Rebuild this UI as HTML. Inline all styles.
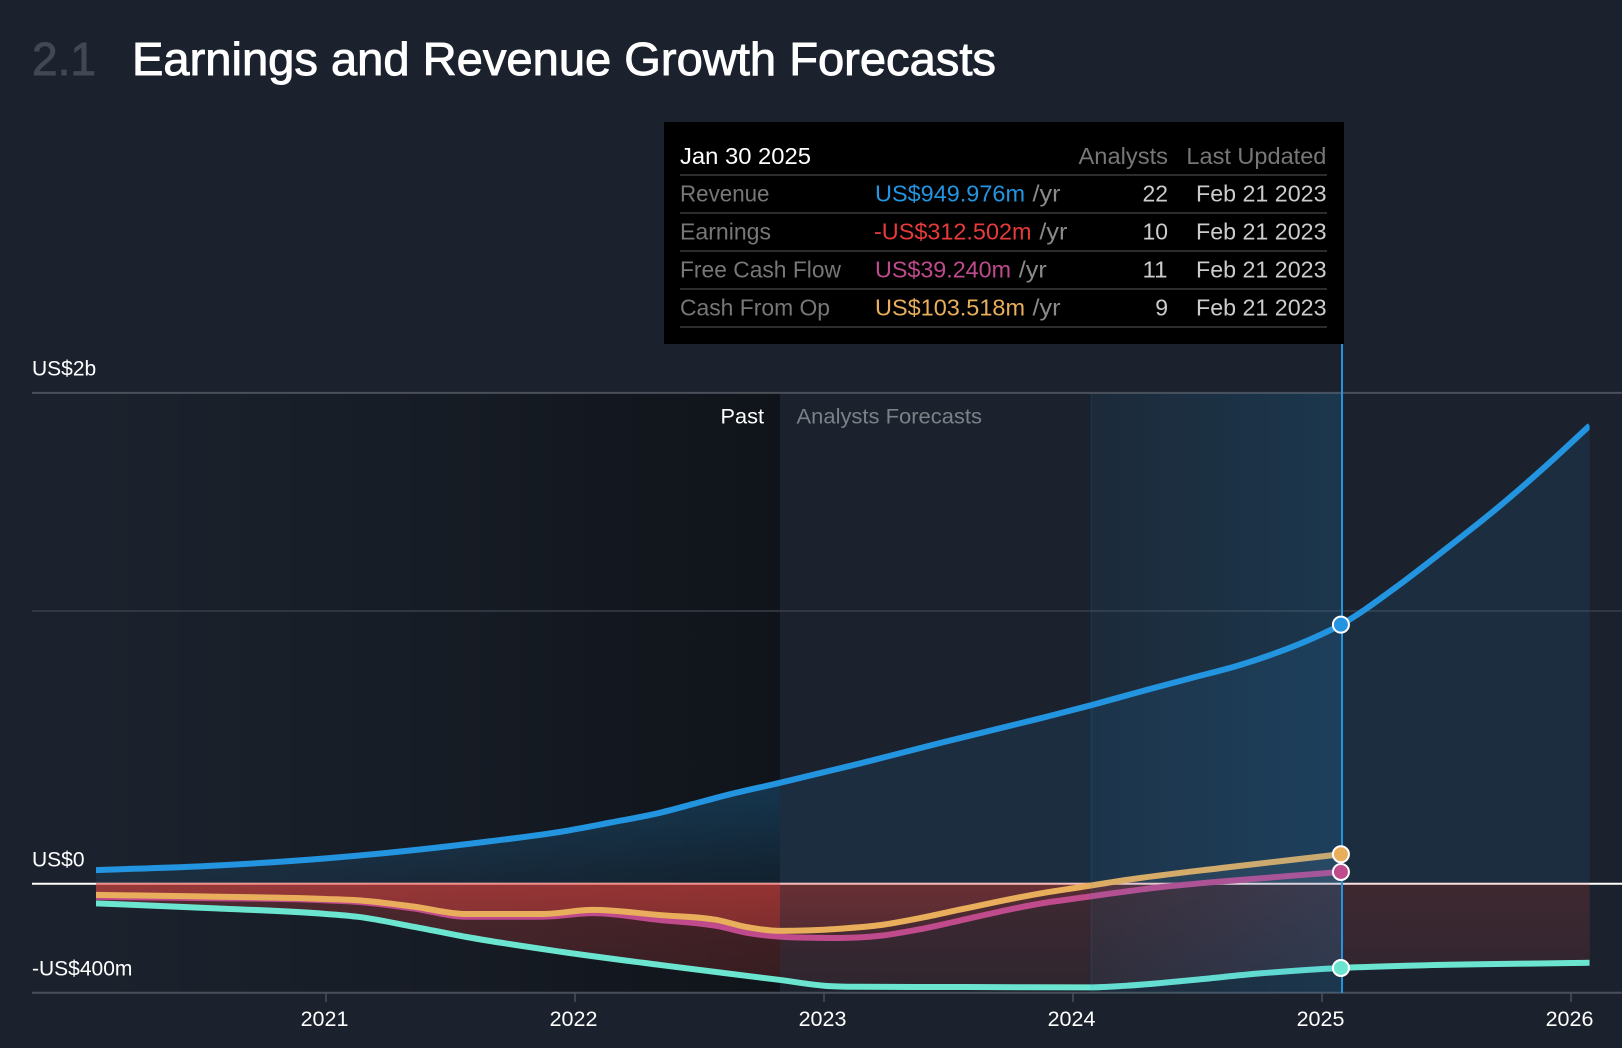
<!DOCTYPE html>
<html lang="en">
<head>
<meta charset="utf-8">
<title>Earnings and Revenue Growth Forecasts</title>
<style>
html,body{margin:0;padding:0;background:#1b222d;width:1622px;height:1048px;overflow:hidden}
svg{display:block;font-family:"Liberation Sans",sans-serif}
</style>
</head>
<body>
<svg id="chart" xmlns="http://www.w3.org/2000/svg" width="1622" height="1048" viewBox="0 0 1622 1048">
  <defs>
    <linearGradient id="pastShade" x1="0" x2="1" y1="0" y2="0">
      <stop offset="0" stop-color="#000" stop-opacity="0"/>
      <stop offset="0.55" stop-color="#000" stop-opacity="0.2"/>
      <stop offset="1" stop-color="#000" stop-opacity="0.42"/>
    </linearGradient>
    <linearGradient id="bandShade" x1="0" x2="1" y1="0" y2="0">
      <stop offset="0" stop-color="#2394df" stop-opacity="0.07"/>
      <stop offset="1" stop-color="#2394df" stop-opacity="0.18"/>
    </linearGradient>
    <linearGradient id="pastBlue" gradientUnits="userSpaceOnUse" x1="0" x2="0" y1="780" y2="884">
      <stop offset="0" stop-color="#2394df" stop-opacity="0.27"/>
      <stop offset="1" stop-color="#2394df" stop-opacity="0.1"/>
    </linearGradient>
    <linearGradient id="pastRed" gradientUnits="userSpaceOnUse" x1="0" x2="0" y1="884" y2="935">
      <stop offset="0" stop-color="#e84641" stop-opacity="0.27"/>
      <stop offset="1" stop-color="#e84641" stop-opacity="0.2"/>
    </linearGradient>
    <linearGradient id="pastEarn" gradientUnits="userSpaceOnUse" x1="0" x2="0" y1="890" y2="985">
      <stop offset="0" stop-color="#e84641" stop-opacity="0.26"/>
      <stop offset="1" stop-color="#e84641" stop-opacity="0.17"/>
    </linearGradient>
    <linearGradient id="futureEarn" gradientUnits="userSpaceOnUse" x1="0" x2="0" y1="890" y2="985">
      <stop offset="0" stop-color="#e84641" stop-opacity="0.17"/>
      <stop offset="1" stop-color="#e84641" stop-opacity="0.1"/>
    </linearGradient>
    <linearGradient id="futureRed" gradientUnits="userSpaceOnUse" x1="0" x2="0" y1="884" y2="935">
      <stop offset="0" stop-color="#e84641" stop-opacity="0.13"/>
      <stop offset="1" stop-color="#e84641" stop-opacity="0.08"/>
    </linearGradient>
    <clipPath id="clipPast"><rect x="96" y="380" width="684" height="620"/></clipPath>
    <clipPath id="clipFuture"><rect x="780" y="380" width="810" height="620"/></clipPath>
    <clipPath id="clipNeg"><rect x="96" y="882.7" width="1494" height="118"/></clipPath>
    <clipPath id="clipPos"><rect x="96" y="380" width="1494" height="502.7"/></clipPath>
    <clipPath id="clipLines"><rect x="96" y="380" width="1493.6" height="620"/></clipPath>
  </defs>

  <rect x="0" y="0" width="1622" height="1048" fill="#1b222d"/>

  <text x="32" y="75" font-size="46" fill="#424853" stroke="#424853" stroke-width="0.9" textLength="64" lengthAdjust="spacingAndGlyphs">2.1</text>
  <text x="132" y="75" font-size="46" fill="#fff" stroke="#fff" stroke-width="0.9" textLength="864" lengthAdjust="spacingAndGlyphs">Earnings and Revenue Growth Forecasts</text>

  <rect x="96" y="393" width="684" height="600" fill="url(#pastShade)"/>

  <g id="gridLayer"></g>
  <g id="areaLayer"></g>
  <g id="lineLayer" clip-path="url(#clipLines)"></g>

  <rect x="1091.4" y="393" width="250.6" height="600" fill="url(#bandShade)"/>
  <line x1="1091.4" x2="1091.4" y1="393" y2="993" stroke="#2394df" stroke-opacity="0.12" stroke-width="1.5"/>

  <text x="720.5" y="423.5" font-size="21" fill="#fff" textLength="43.5" lengthAdjust="spacingAndGlyphs">Past</text>
  <text x="796.5" y="423.5" font-size="21" fill="#7c8087" textLength="185.5" lengthAdjust="spacingAndGlyphs">Analysts Forecasts</text>

  <g id="axisLayer"></g>

  <line x1="1342" x2="1342" y1="343" y2="993" stroke="#2394df" stroke-width="2"/>
  <g id="markerLayer"></g>

  <g font-size="23">
    <rect x="664" y="122" width="680" height="222" fill="#000"/>
    <text x="680" y="164" fill="#fff" textLength="131" lengthAdjust="spacingAndGlyphs">Jan 30 2025</text>
    <text x="1078.5" y="164" fill="#777" textLength="89.5" lengthAdjust="spacingAndGlyphs">Analysts</text>
    <text x="1186.4" y="164" fill="#777" textLength="140" lengthAdjust="spacingAndGlyphs">Last Updated</text>
    <g stroke="#3a3a3a" stroke-width="1.5">
      <line x1="680" x2="1327" y1="175" y2="175"/>
      <line x1="680" x2="1327" y1="213" y2="213"/>
      <line x1="680" x2="1327" y1="251" y2="251"/>
      <line x1="680" x2="1327" y1="289" y2="289"/>
      <line x1="680" x2="1327" y1="327" y2="327"/>
    </g>

    <text x="680" y="201.7" fill="#777" textLength="89.5" lengthAdjust="spacingAndGlyphs">Revenue</text>
    <text x="875" y="201.7" fill="#2394df" textLength="150" lengthAdjust="spacingAndGlyphs">US$949.976m</text>
    <text x="1032.5" y="201.7" fill="#8a8a8a" textLength="28" lengthAdjust="spacingAndGlyphs">/yr</text>
    <text x="1142.5" y="201.7" fill="#ccc" textLength="25.5" lengthAdjust="spacingAndGlyphs">22</text>
    <text x="1196" y="201.7" fill="#ccc" textLength="130.5" lengthAdjust="spacingAndGlyphs">Feb 21 2023</text>

    <text x="680" y="239.7" fill="#777" textLength="91" lengthAdjust="spacingAndGlyphs">Earnings</text>
    <text x="874" y="239.7" fill="#e83a3a" textLength="157.5" lengthAdjust="spacingAndGlyphs">-US$312.502m</text>
    <text x="1039.4" y="239.7" fill="#8a8a8a" textLength="28" lengthAdjust="spacingAndGlyphs">/yr</text>
    <text x="1142.5" y="239.7" fill="#ccc" textLength="25.5" lengthAdjust="spacingAndGlyphs">10</text>
    <text x="1196" y="239.7" fill="#ccc" textLength="130.5" lengthAdjust="spacingAndGlyphs">Feb 21 2023</text>

    <text x="680" y="277.7" fill="#777" textLength="161" lengthAdjust="spacingAndGlyphs">Free Cash Flow</text>
    <text x="875" y="277.7" fill="#bf4a8c" textLength="136" lengthAdjust="spacingAndGlyphs">US$39.240m</text>
    <text x="1018.8" y="277.7" fill="#8a8a8a" textLength="28" lengthAdjust="spacingAndGlyphs">/yr</text>
    <text x="1142.5" y="277.7" fill="#ccc" textLength="25" lengthAdjust="spacingAndGlyphs">11</text>
    <text x="1196" y="277.7" fill="#ccc" textLength="130.5" lengthAdjust="spacingAndGlyphs">Feb 21 2023</text>

    <text x="680" y="315.7" fill="#777" textLength="150" lengthAdjust="spacingAndGlyphs">Cash From Op</text>
    <text x="875" y="315.7" fill="#e9ae5b" textLength="150" lengthAdjust="spacingAndGlyphs">US$103.518m</text>
    <text x="1032.5" y="315.7" fill="#8a8a8a" textLength="28" lengthAdjust="spacingAndGlyphs">/yr</text>
    <text x="1168" y="315.7" text-anchor="end" fill="#ccc">9</text>
    <text x="1196" y="315.7" fill="#ccc" textLength="130.5" lengthAdjust="spacingAndGlyphs">Feb 21 2023</text>
  </g>
</svg>

<script>
const yearTicks = [2021, 2022, 2023, 2024, 2025, 2026];
const yTickValues = [1800, 1000, 0, -400];
const yTickLabels = ['US$2b', '', 'US$0', '-US$400m'];
const hoverDate = 2025.076;

const revenueDates = [2020.076, 2020.522, 2021, 2021.353, 2021.663, 2021.94, 2022.141, 2022.341, 2022.474, 2022.61, 2022.823, 2023.145, 2023.466, 2023.867, 2024.075, 2024.269, 2024.47, 2024.671, 2024.803, 2024.938, 2025.076, 2025.30, 2025.501, 2025.702, 2025.903, 2026.075];
const revenueValues = [50, 65, 93, 123, 156, 190, 224, 260, 292, 325, 370, 441, 516, 606, 655, 704, 753, 802, 842, 890, 950, 1089, 1230, 1376, 1535, 1680];

const earningsDates = [2020.076, 2020.522, 2021, 2021.124, 2021.353, 2021.562, 2021.94, 2022.341, 2022.823, 2023.012, 2023.145, 2023.57, 2024.072, 2024.216, 2024.482, 2024.751, 2025.076, 2025.337, 2026.075];
const earningsValues = [-72, -89, -111, -121, -158, -195, -249, -298, -353, -375, -378, -379, -380, -374, -353, -329, -309, -301, -290];

const fcfDates = [2020.076, 2020.522, 2021, 2021.145, 2021.353, 2021.562, 2021.871, 2022.072, 2022.341, 2022.57, 2022.69, 2022.823, 2023.064, 2023.225, 2023.386, 2023.546, 2023.707, 2023.867, 2024.028, 2024.349, 2024.618, 2025.076];
const fcfValues = [-48, -53, -61, -68, -91, -121, -121, -108, -133, -155, -180, -194, -199, -191, -167, -135, -102, -73, -52, -13, 10, 43];

const cashOpDates = [2020.076, 2020.522, 2021, 2021.145, 2021.353, 2021.562, 2021.871, 2022.072, 2022.341, 2022.57, 2022.69, 2022.823, 2023.064, 2023.225, 2023.386, 2023.546, 2023.707, 2023.867, 2024.028, 2024.216, 2024.618, 2025.076];
const cashOpValues = [-41, -47, -56, -62, -84, -111, -111, -96, -115, -133, -159, -173, -165, -152, -126, -95, -64, -36, -13, 14, 60, 108];

const SVG_NS = 'http://www.w3.org/2000/svg';
const xScale = d => 326 + (d - 2021) * 249;
const yScale = v => 883.7 - v * 0.2727;

function svgEl(tag, attrs) {
  const el = document.createElementNS(SVG_NS, tag);
  for (const k in attrs) el.setAttribute(k, attrs[k]);
  return el;
}

function curvePath(dates, values) {
  const xs = dates.map(xScale);
  const ys = values.map(yScale);
  const n = xs.length;
  const m = new Array(n).fill(0);
  for (let i = 1; i < n - 1; i++) {
    const h0 = xs[i] - xs[i - 1];
    const h1 = xs[i + 1] - xs[i];
    const a = (ys[i] - ys[i - 1]) / h0;
    const b = (ys[i + 1] - ys[i]) / h1;
    if (a * b <= 0) { m[i] = 0; continue; }
    const t = (a * h1 + b * h0) / (h0 + h1);
    const limit = 3 * Math.min(Math.abs(a), Math.abs(b));
    m[i] = Math.sign(t) * Math.min(Math.abs(t), limit);
  }
  m[0] = (ys[1] - ys[0]) / (xs[1] - xs[0]);
  m[n - 1] = (ys[n - 1] - ys[n - 2]) / (xs[n - 1] - xs[n - 2]);
  let d = 'M' + xs[0].toFixed(2) + ' ' + ys[0].toFixed(2);
  for (let i = 0; i < n - 1; i++) {
    const h = (xs[i + 1] - xs[i]) / 3;
    d += 'C' + (xs[i] + h).toFixed(2) + ' ' + (ys[i] + m[i] * h).toFixed(2) + ' ' +
         (xs[i + 1] - h).toFixed(2) + ' ' + (ys[i + 1] - m[i + 1] * h).toFixed(2) + ' ' +
         xs[i + 1].toFixed(2) + ' ' + ys[i + 1].toFixed(2);
  }
  return d;
}

function areaPath(dates, values) {
  const base = (yScale(0) - 1).toFixed(2);
  return curvePath(dates, values) + 'L' + xScale(dates[dates.length - 1]).toFixed(2) + ' ' + base +
         'L' + xScale(dates[0]).toFixed(2) + ' ' + base + 'Z';
}

function valueAt(dates, values, d) {
  for (let i = 0; i < dates.length - 1; i++) {
    if (d >= dates[i] && d <= dates[i + 1]) {
      const t = (d - dates[i]) / (dates[i + 1] - dates[i]);
      return values[i] + (values[i + 1] - values[i]) * t;
    }
  }
  return values[values.length - 1];
}

const gridLayer = document.getElementById('gridLayer');
const areaLayer = document.getElementById('areaLayer');
const lineLayer = document.getElementById('lineLayer');
const axisLayer = document.getElementById('axisLayer');
const markerLayer = document.getElementById('markerLayer');

yTickValues.forEach((v, i) => {
  const isZero = v === 0;
  const gl = svgEl('line', {
    x1: 32, x2: 1622, y1: yScale(v), y2: yScale(v),
    stroke: isZero ? '#fff' : (v === 1000 ? '#383e49' : '#4a4f59'),
    'stroke-width': isZero ? 2 : (v === 1000 ? 1.5 : 2)
  });
  
  
  gridLayer.appendChild(gl);
  if (yTickLabels[i]) {
    const t = svgEl('text', { x: 32, y: yScale(v) - 17.4, 'font-size': 21, fill: '#fff' });
    t.textContent = yTickLabels[i];
    
    
    axisLayer.appendChild(t);
  }
});

yearTicks.forEach(yr => {
  const x = xScale(yr);
  const tick = svgEl('line', { x1: x, x2: x, y1: 993, y2: 1002, stroke: '#4a4f59', 'stroke-width': 1.5 });
  
  
  axisLayer.appendChild(tick);
  const t = svgEl('text', { x: x - 1.5, y: 1026, 'font-size': 21.5, fill: '#fff', 'text-anchor': 'middle' });
  t.textContent = String(yr);
  
  
  axisLayer.appendChild(t);
});

function addArea(dates, values, fill, opacity, timeClip, signClip, name) {
  const outer = svgEl('g', { 'clip-path': 'url(#' + timeClip + ')' });
  const inner = svgEl('g', { 'clip-path': 'url(#' + signClip + ')' });
  const p = svgEl('path', { d: areaPath(dates, values), fill: fill, 'fill-opacity': opacity });
  
  
  inner.appendChild(p);
  outer.appendChild(inner);
  areaLayer.appendChild(outer);
}

addArea(revenueDates, revenueValues, 'url(#pastBlue)', 1, 'clipPast', 'clipPos', 'revenue-area-past');
addArea(revenueDates, revenueValues, '#2394df', 0.1, 'clipFuture', 'clipPos', 'revenue-area-forecast');
addArea(earningsDates, earningsValues, 'url(#pastEarn)', 1, 'clipPast', 'clipNeg', 'earnings-area-past');
addArea(earningsDates, earningsValues, 'url(#futureEarn)', 1, 'clipFuture', 'clipNeg', 'earnings-area-forecast');
addArea(fcfDates, fcfValues, 'url(#pastRed)', 1, 'clipPast', 'clipNeg', 'fcf-area-past');
addArea(cashOpDates, cashOpValues, 'url(#pastRed)', 1, 'clipPast', 'clipNeg', 'cash-op-area-past');
addArea(fcfDates, fcfValues, 'url(#futureRed)', 1, 'clipFuture', 'clipNeg', 'fcf-area-forecast');
addArea(cashOpDates, cashOpValues, 'url(#futureRed)', 1, 'clipFuture', 'clipNeg', 'cash-op-area-forecast');
addArea(fcfDates, fcfValues, '#ffffff', 0.06, 'clipFuture', 'clipPos', 'fcf-area-positive');
addArea(cashOpDates, cashOpValues, '#ffffff', 0.06, 'clipFuture', 'clipPos', 'cash-op-area-positive');

function addLine(dates, values, color, name) {
  const p = svgEl('path', { d: curvePath(dates, values), fill: 'none', stroke: color, 'stroke-width': 6 });
  
  
  lineLayer.appendChild(p);
}

addLine(earningsDates, earningsValues, '#6be5d0', 'earnings-line');
addLine(revenueDates, revenueValues, '#2394df', 'revenue-line');
addLine(fcfDates, fcfValues, '#bf4a8c', 'free-cash-flow-line');
addLine(cashOpDates, cashOpValues, '#e9ae5b', 'cash-from-op-line');

function addMarker(dates, values, color, name) {
  const c = svgEl('circle', {
    cx: xScale(hoverDate), cy: yScale(valueAt(dates, values, hoverDate)), r: 8,
    fill: color, stroke: '#fff', 'stroke-width': 2
  });
  
  
  markerLayer.appendChild(c);
}

addMarker(revenueDates, revenueValues, '#2394df', 'revenue-marker');
addMarker(cashOpDates, cashOpValues, '#e9ae5b', 'cash-from-op-marker');
addMarker(fcfDates, fcfValues, '#bf4a8c', 'free-cash-flow-marker');
addMarker(earningsDates, earningsValues, '#6be5d0', 'earnings-marker');
</script>
</body>
</html>
